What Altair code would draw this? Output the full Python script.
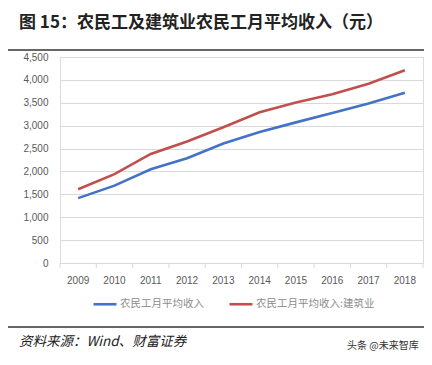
import altair as alt
import pandas as pd

years = ["2009", "2010", "2011", "2012", "2013", "2014", "2015", "2016", "2017", "2018"]
s1_name = "农民工月平均收入"
s2_name = "农民工月平均收入:建筑业"
s1 = [1417, 1690, 2049, 2290, 2609, 2864, 3072, 3275, 3485, 3721]
s2 = [1610, 1940, 2382, 2654, 2966, 3292, 3508, 3687, 3918, 4209]

title_text = "图 15：农民工及建筑业农民工月平均收入（元）"
source_text = "资料来源：Wind、财富证券"
mark_text = "头条 @未来智库"

rows = []
for y, v in zip(years, s1):
    rows.append({"year": y, "series": s1_name, "value": v})
for y, v in zip(years, s2):
    rows.append({"year": y, "series": s2_name, "value": v})
df = pd.DataFrame(rows)
ydf = pd.DataFrame({"year": years})
ydf_last = pd.DataFrame({"year": years[-1:]})

FONT = "Noto Sans CJK SC"
W, H = 363, 206

xscale = alt.Scale(type="band", paddingInner=0, paddingOuter=0, domain=years)
x_axis = alt.Axis(labelAngle=0, labelFont="Liberation Sans", ticks=False,
                  bandPosition=0.5, labelAlign="center",
                  labelFontSize=10, labelColor="#595959", domainColor="#d9d9d9",
                  labelPadding=12, grid=False)

lines = alt.Chart(df).mark_line(strokeWidth=2.6).encode(
    x=alt.X("year:N", sort=years, title=None, scale=xscale, bandPosition=0.5, axis=x_axis),
    y=alt.Y("value:Q", title=None,
            scale=alt.Scale(domain=[0, 4500]),
            axis=alt.Axis(values=list(range(0, 4501, 500)), format=",.0f", domain=False, ticks=False,
                          labelFont="Liberation Sans", labelFontSize=10, labelColor="#595959",
                          labelPadding=12, gridColor="#d9d9d9", gridWidth=1)),
    color=alt.Color("series:N", sort=[s1_name, s2_name],
                    scale=alt.Scale(domain=[s1_name, s2_name], range=["#4472C4", "#C0504D"]),
                    legend=alt.Legend(title=None, orient="none", legendX=32, legendY=234,
                                      direction="horizontal", symbolType="stroke",
                                      symbolSize=529, symbolStrokeWidth=2.6, labelFont=FONT,
                                      labelFontSize=10.5, labelColor="#8c8c8c", labelOffset=2,
                                      columnPadding=20)),
)

ticks_start = alt.Chart(ydf).mark_rule(color="#d9d9d9", strokeWidth=1).encode(
    x=alt.X("year:N", sort=years, title=None, scale=xscale, bandPosition=0, axis=x_axis),
    y=alt.value(H), y2=alt.value(H + 5))
ticks_end = alt.Chart(ydf_last).mark_rule(color="#d9d9d9", strokeWidth=1).encode(
    x=alt.X("year:N", sort=years, title=None, scale=xscale, bandPosition=1, axis=x_axis),
    y=alt.value(H), y2=alt.value(H + 5))

title = alt.Chart(pd.DataFrame({"t": [title_text]})).mark_text(
    align="left", baseline="middle", font=FONT, fontSize=17, fontWeight="bold", color="#222222"
).encode(text="t:N", x=alt.value(-41), y=alt.value(-34))

top_rule = alt.Chart(pd.DataFrame({"a": [0]})).mark_rule(color="#333333", strokeWidth=1.5).encode(
    x=alt.value(-52), x2=alt.value(364), y=alt.value(-7))
bot_rule = alt.Chart(pd.DataFrame({"a": [0]})).mark_rule(color="#333333", strokeWidth=1.5).encode(
    x=alt.value(-52), x2=alt.value(364), y=alt.value(270))

source = alt.Chart(pd.DataFrame({"t": [source_text]})).mark_text(
    align="left", baseline="middle", font=FONT, fontSize=13.5, fontStyle="italic", color="#222222"
).encode(text="t:N", x=alt.value(-41), y=alt.value(285))

wm = alt.Chart(pd.DataFrame({"t": [mark_text]})).mark_text(
    align="left", baseline="middle", font=FONT, fontSize=10, color="#333333"
).encode(text="t:N", x=alt.value(287), y=alt.value(289))

chart = alt.layer(lines, ticks_start, ticks_end, title, top_rule, bot_rule, source, wm).properties(
    width=W, height=H,
    autosize=alt.AutoSizeParams(type="none"),
    padding={"left": 52, "top": 49, "right": 1, "bottom": 94},
).configure_view(stroke=None).configure(background="white").configure_axisX(grid=False)

chart.save("out.html", embed_options={"renderer": "svg", "actions": False})
